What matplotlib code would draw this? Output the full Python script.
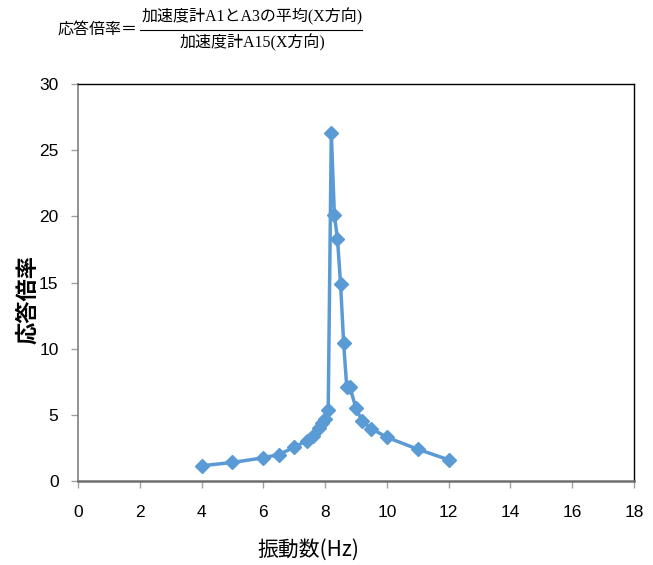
import matplotlib
matplotlib.use("Agg")
import matplotlib.pyplot as plt
from matplotlib.lines import Line2D

# 振動数 (Hz) と応答倍率
freq = [4, 5, 6, 6.5, 7, 7.4, 7.6, 7.8, 7.9, 8.0, 8.1, 8.2, 8.3, 8.4,
        8.5, 8.6, 8.7, 8.8, 9.0, 9.2, 9.5, 10, 11, 12]
ratio = [1.15, 1.4, 1.75, 2.0, 2.55, 3.05, 3.4, 4.0, 4.35, 4.65, 5.4, 26.3,
         20.1, 18.3, 14.9, 10.4, 7.1, 7.1, 5.5, 4.5, 3.95, 3.3, 2.4, 1.6]

xticks = list(range(0, 19, 2))
yticks = list(range(0, 31, 5))

tick_font = ['Liberation Sans', 'DejaVu Sans']
cjk_font = ['Noto Sans CJK JP', 'DejaVu Sans']
formula_font = ['Liberation Serif', 'Noto Sans CJK JP']

fig = plt.figure(figsize=(6.53, 5.65), dpi=100)
ax = fig.add_axes([0.1194, 0.1487, 0.8516, 0.7026])

ax.plot(freq, ratio, color='#5B9BD5', linewidth=2.5, marker='D',
        markersize=7, markeredgecolor='#5B9BD5', markerfacecolor='#5B9BD5')

ax.set_xlim(0, 18)
ax.set_ylim(0, 30)
ax.set_xticks(xticks)
ax.set_yticks(yticks)
ax.set_xticklabels([str(v) for v in xticks], family=tick_font, fontsize=12.5)
ax.set_yticklabels([str(v) for v in yticks], family=tick_font, fontsize=12.5)
ax.tick_params(axis='x', direction='out', length=5, width=1, color='#a0a0a0', pad=12)
ax.tick_params(axis='y', direction='out', length=5, width=1, color='#a0a0a0', pad=9)

ax.spines['left'].set_color('#808080')
ax.spines['left'].set_linewidth(1.2)
ax.spines['bottom'].set_color('#6e6e6e')
ax.spines['bottom'].set_linewidth(1.8)
ax.spines['top'].set_color('black')
ax.spines['top'].set_linewidth(1.0)
ax.spines['right'].set_color('black')
ax.spines['right'].set_linewidth(1.0)

ax.set_xlabel('振動数(Hz)', family=cjk_font, fontsize=15)
ax.set_ylabel('応答倍率', family=cjk_font, fontsize=16, fontweight='bold')
ax.xaxis.set_label_coords(0.414, -0.174)
ax.yaxis.set_label_coords(-0.09, 0.456)
ax.xaxis.label.set_va('center')
ax.yaxis.label.set_va('center')

# 式 (上部)
fs = 11.5
fig.text(58 / 653, 1 - 30 / 565, '応答倍率＝', family=formula_font, fontsize=fs,
         ha='left', va='center')
fig.text(252 / 653, 1 - 17 / 565, '加速度計A1とA3の平均(X方向)', family=formula_font,
         fontsize=fs, ha='center', va='center')
fig.text(252 / 653, 1 - 43 / 565, '加速度計A15(X方向)', family=formula_font,
         fontsize=fs, ha='center', va='center')
fig.add_artist(Line2D([140 / 653, 362 / 653], [1 - 30 / 565, 1 - 30 / 565],
                      color='black', linewidth=0.8, transform=fig.transFigure))

fig.savefig('out.png', dpi=100)
